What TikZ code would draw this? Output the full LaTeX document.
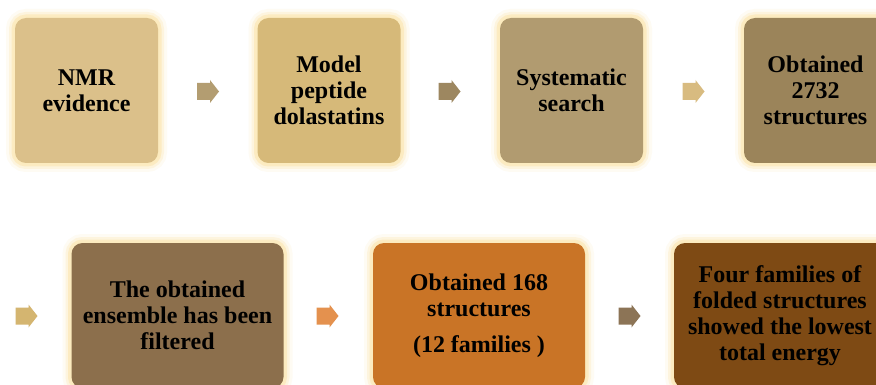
\documentclass[tikz,border=0pt]{standalone}
\usepackage{fontspec}
\setmainfont{Liberation Serif}
\definecolor{glowc}{RGB}{252,226,160}
\definecolor{cA}{RGB}{219,192,138}
\definecolor{cB}{RGB}{214,185,121}
\definecolor{cC}{RGB}{177,155,112}
\definecolor{cD}{RGB}{155,132,90}
\definecolor{cE}{RGB}{140,111,76}
\definecolor{cF}{RGB}{201,116,38}
\definecolor{cG}{RGB}{126,74,20}
\definecolor{aA}{RGB}{179,157,113}
\definecolor{aB}{RGB}{157,135,96}
\definecolor{aC}{RGB}{216,187,128}
\definecolor{aD}{RGB}{212,181,112}
\definecolor{aE}{RGB}{228,145,78}
\definecolor{aF}{RGB}{140,116,86}
\tikzset{
  stepbox/.style={rounded corners=11pt, inner sep=2pt, align=center,
    font=\fontsize{24}{26}\selectfont\bfseries, text=black,
    preaction={draw=glowc, line width=18pt, opacity=0.12},
    preaction={draw=glowc, line width=12pt, opacity=0.25},
    preaction={draw=glowc, line width=7pt, opacity=0.45},
    preaction={draw=glowc!70!white, line width=3pt, opacity=0.8}},
  topbox/.style={stepbox, minimum width=143pt, minimum height=145pt},
  botbox/.style={stepbox, minimum width=212pt, minimum height=145pt},
  blockarrow/.pic={\fill (-11,-8.5) -- (2,-8.5) -- (2,-11.5) -- (11,0) -- (2,11.5) -- (2,8.5) -- (-11,8.5) -- cycle;}
}
\begin{document}
\begin{tikzpicture}[x=1pt,y=-1pt]
\useasboundingbox (0,0) rectangle (876,385);
\clip (0,0) rectangle (876,385);
\fill[white] (0,0) rectangle (876,385);
\node[topbox, fill=cA] (b1) at (86.5,90.5) {NMR\\evidence};
\node[topbox, fill=cB] (b2) at (329,90.5) {Model\\peptide\\dolastatins};
\node[topbox, fill=cC] (b3) at (571.5,90.5) {Systematic\\search};
\node[topbox, fill=cD] (b4) at (815.5,90.5) {Obtained\\2732\\structures};
\node[botbox, fill=cE] (b5) at (177.5,315.5) {The obtained\\ensemble has been\\filtered};
\node[botbox, fill=cF] (b6) at (479,315.5) {Obtained 168\\structures\\[10pt](12 families )};
\node[botbox, fill=cG] (b7) at (780,315.5) {Four families of\\folded structures\\showed the lowest\\total energy};
\coordinate (a1) at (208,91.5);
\coordinate (a2) at (449.5,91.5);
\coordinate (a3) at (693.5,91.5);
\coordinate (a4) at (26.5,316);
\coordinate (a5) at (327.5,316);
\coordinate (a6) at (629.5,316);
\pic[aA] at (a1) {blockarrow};
\pic[aB] at (a2) {blockarrow};
\pic[aC] at (a3) {blockarrow};
\pic[aD] at (a4) {blockarrow};
\pic[aE] at (a5) {blockarrow};
\pic[aF] at (a6) {blockarrow};
\end{tikzpicture}
\end{document}
